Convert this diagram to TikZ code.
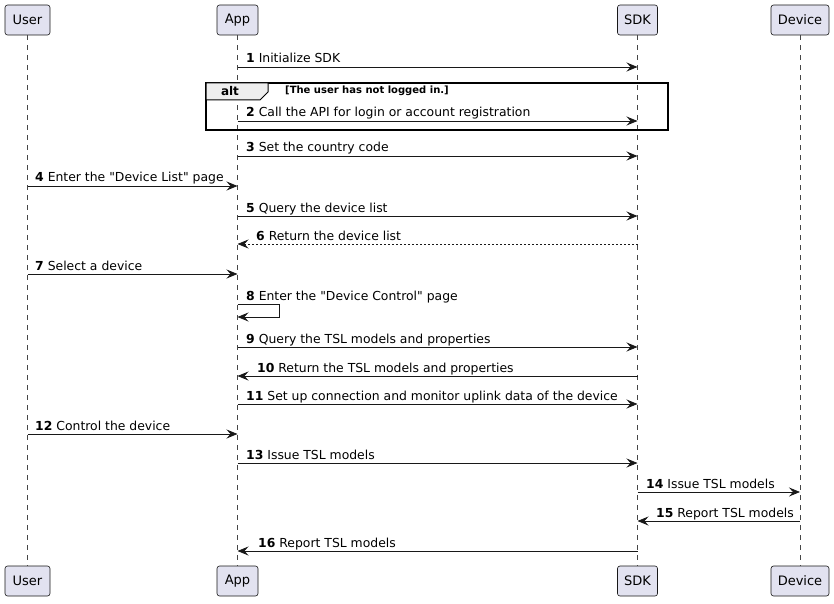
\documentclass[tikz,border=0pt]{standalone}
\usepackage{fontspec}
\setmainfont{DejaVu Sans}
\usetikzlibrary{arrows.meta}
\definecolor{partfill}{HTML}{E2E2F0}
\definecolor{partline}{HTML}{181818}
\definecolor{tabfill}{HTML}{EEEEEE}
\begin{document}
\begin{tikzpicture}[x=1pt,y=-1pt,
  part/.style={draw=partline,fill=partfill,rounded corners=2.5pt,minimum height=30pt,inner xsep=4pt,font=\fontsize{13}{15}\selectfont,line width=0.6pt},
  life/.style={draw=partline!80,line width=0.5pt,dash pattern=on 5pt off 5pt},
  msg/.style={draw=partline,line width=0.8pt,-{Stealth[length=11pt,width=9pt,inset=4pt]}},
  ret/.style={msg,dash pattern=on 2pt off 2pt},
  lbl/.style={anchor=base west,inner sep=0pt,font=\fontsize{12.4}{14}\selectfont}]
\useasboundingbox (0,0) rectangle (834,604);
% participants
\node[part,minimum width=45pt] (userT) at (27.5,20) {User};
\node[part,minimum width=41pt] (appT) at (237.5,20) {App};
\node[part,minimum width=40pt] (sdkT) at (637.5,20) {SDK};
\node[part,minimum width=58pt] (devT) at (800,20) {Device};
\node[part,minimum width=45pt] (userB) at (27.5,581) {User};
\node[part,minimum width=41pt] (appB) at (237.5,581) {App};
\node[part,minimum width=40pt] (sdkB) at (637.5,581) {SDK};
\node[part,minimum width=58pt] (devB) at (800,581) {Device};
% lifelines
\draw[life] (userT.south) -- (userB.north);
\draw[life] (appT.south) -- (appB.north);
\draw[life] (sdkT.south) -- (sdkB.north);
\draw[life] (devT.south) -- (devB.north);
% alt fragment
\draw[line width=1.3pt,draw=black] (206,83) rectangle (668,130);
\draw[line width=1pt,fill=tabfill] (206,83) -- (268,83) -- (268,92) -- (260,100) -- (206,100) -- cycle;
\node[font=\bfseries\fontsize{12}{14}\selectfont,anchor=base,inner sep=0pt] (altlbl) at (230,96) {alt};
\node[font=\bfseries\fontsize{10}{12}\selectfont,anchor=base west,inner sep=0pt] (altcond) at (285,94) {[The user has not logged in.]};
% messages
\draw[msg] (appT.south |- 0,67) -- (sdkT.south |- 0,67);
\node[lbl] (m1) at (246,63) {\textbf{1} Initialize SDK};
\draw[msg] (appT.south |- 0,121) -- (sdkT.south |- 0,121);
\node[lbl] (m2) at (246,117) {\textbf{2} Call the API for login or account registration};
\draw[msg] (appT.south |- 0,156) -- (sdkT.south |- 0,156);
\node[lbl] (m3) at (246,152) {\textbf{3} Set the country code};
\draw[msg] (userT.south |- 0,186) -- (appT.south |- 0,186);
\node[lbl] (m4) at (35,182) {\textbf{4} Enter the \textquotedbl Device List\textquotedbl\ page};
\draw[msg] (appT.south |- 0,216) -- (sdkT.south |- 0,216);
\node[lbl] (m5) at (246,212) {\textbf{5} Query the device list};
\draw[ret] (sdkT.south |- 0,244) -- (appT.south |- 0,244);
\node[lbl] (m6) at (256,240) {\textbf{6} Return the device list};
\draw[msg] (userT.south |- 0,274) -- (appT.south |- 0,274);
\node[lbl] (m7) at (35,270) {\textbf{7} Select a device};
\coordinate (s8a) at (appT.south |- 0,304);
\coordinate (s8b) at (appT.south |- 0,317);
\draw[msg] (s8a) -- ++(42,0) |- (s8b);
\node[lbl] (m8) at (246,300) {\textbf{8} Enter the \textquotedbl Device Control\textquotedbl\ page};
\draw[msg] (appT.south |- 0,347) -- (sdkT.south |- 0,347);
\node[lbl] (m9) at (246,343) {\textbf{9} Query the TSL models and properties};
\draw[msg] (sdkT.south |- 0,376) -- (appT.south |- 0,376);
\node[lbl] (m10) at (257,372) {\textbf{10} Return the TSL models and properties};
\draw[msg] (appT.south |- 0,404) -- (sdkT.south |- 0,404);
\node[lbl] (m11) at (246,400) {\textbf{11} Set up connection and monitor uplink data of the device};
\draw[msg] (userT.south |- 0,434) -- (appT.south |- 0,434);
\node[lbl] (m12) at (35,430) {\textbf{12} Control the device};
\draw[msg] (appT.south |- 0,463) -- (sdkT.south |- 0,463);
\node[lbl] (m13) at (246,459) {\textbf{13} Issue TSL models};
\draw[msg] (sdkT.south |- 0,492) -- (devT.south |- 0,492);
\node[lbl] (m14) at (646,488) {\textbf{14} Issue TSL models};
\draw[msg] (devT.south |- 0,521) -- (sdkT.south |- 0,521);
\node[lbl] (m15) at (656,517) {\textbf{15} Report TSL models};
\draw[msg] (sdkT.south |- 0,551) -- (appT.south |- 0,551);
\node[lbl] (m16) at (258,547) {\textbf{16} Report TSL models};
\end{tikzpicture}
\end{document}
